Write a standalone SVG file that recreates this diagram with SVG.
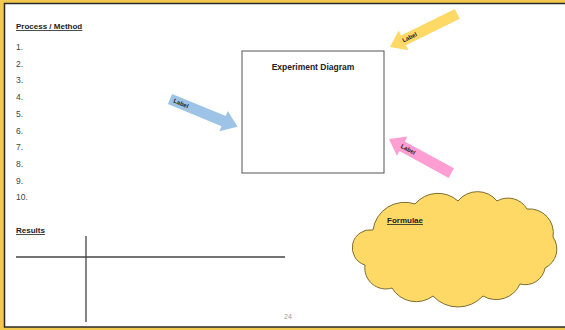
<svg xmlns="http://www.w3.org/2000/svg" width="565" height="330" viewBox="0 0 565 330">
<style>
.t{font-family:"Liberation Sans",Arial,sans-serif}
.h{font-weight:bold;font-size:8px;text-decoration:underline;fill:#222}
.n{font-size:8.5px;fill:#444}
.lbl{font-family:"Liberation Sans",Arial,sans-serif;font-size:6px;font-weight:bold;fill:#222}
.ln{stroke:#444;stroke-width:1.3;fill:none}
</style>
<rect x="0" y="0" width="565" height="330" fill="#F2C94C"/>
<rect x="5" y="4" width="562" height="323" fill="#fff"/>
<path d="M565,3.5 H4.5 V327 H565" fill="none" stroke="#2a2a2a" stroke-width="1.5"/>

<g id="process">
<text class="t h" x="16" y="29">Process / Method</text>
<g class="t n">
<text x="16" y="50">1.</text>
<text x="16" y="67">2.</text>
<text x="16" y="83">3.</text>
<text x="16" y="100">4.</text>
<text x="16" y="117">5.</text>
<text x="16" y="134">6.</text>
<text x="16" y="150">7.</text>
<text x="16" y="167">8.</text>
<text x="16" y="184">9.</text>
<text x="16" y="200">10.</text>
</g>
</g>

<g id="results">
<text class="t h" x="16" y="233">Results</text>
<line class="ln" x1="16" y1="257" x2="285" y2="257"/>
<line class="ln" x1="86" y1="236" x2="86" y2="322"/>
</g>

<g id="page">
<text x="284" y="319" font-family="Liberation Sans, Arial, sans-serif" font-size="7" fill="#9a9a9a">24</text>
</g>

<g id="experiment">
<rect x="242" y="51" width="142" height="122" fill="#fff" stroke="#555" stroke-width="1"/>
<text class="t" x="313" y="70" text-anchor="middle" font-size="8.5" font-weight="bold" fill="#222">Experiment Diagram</text>
</g>

<g id="connectors">
<g id="arrow-blue" transform="translate(170,99) rotate(22.4)">
<polygon points="0,-5.5 58,-5.5 58,-11 73,0 58,11 58,5.5 0,5.5" fill="#9DC3E6"/>
<text class="lbl" x="4" y="2">Label</text>
</g>
<g id="arrow-yellow" transform="translate(390,47) rotate(-26.2)">
<polygon points="0,0 15,-11 15,-5.5 75,-5.5 75,5.5 15,5.5 15,11" fill="#FFD966"/>
<text class="lbl" x="14" y="2">Label</text>
</g>
<g id="arrow-pink" transform="translate(389,139) rotate(28.7)">
<polygon points="0,0 15,-11 15,-5.5 71,-5.5 71,5.5 15,5.5 15,11" fill="#FF9ED2"/>
<text class="lbl" x="14" y="2">Label</text>
</g>
</g>

<g id="formulae">
<path d="M373,230 A32,32 0 0 1 415,204 A30,30 0 0 1 458,201 A25,25 0 0 1 497,201 A22,22 0 0 1 527,209 A24,24 0 0 1 553,237 A21,21 0 0 1 545,268 A20,20 0 0 1 520,284 A26,26 0 0 1 483,296 A34,34 0 0 1 433,296 A28,28 0 0 1 392,288 A21,21 0 0 1 365,265 A18,18 0 0 1 373,230 Z" fill="#FFD966" stroke="#7d6d2e" stroke-width="1"/>
<text class="t h" x="387" y="223" font-size="7.5">Formulae</text>
</g>
</svg>
